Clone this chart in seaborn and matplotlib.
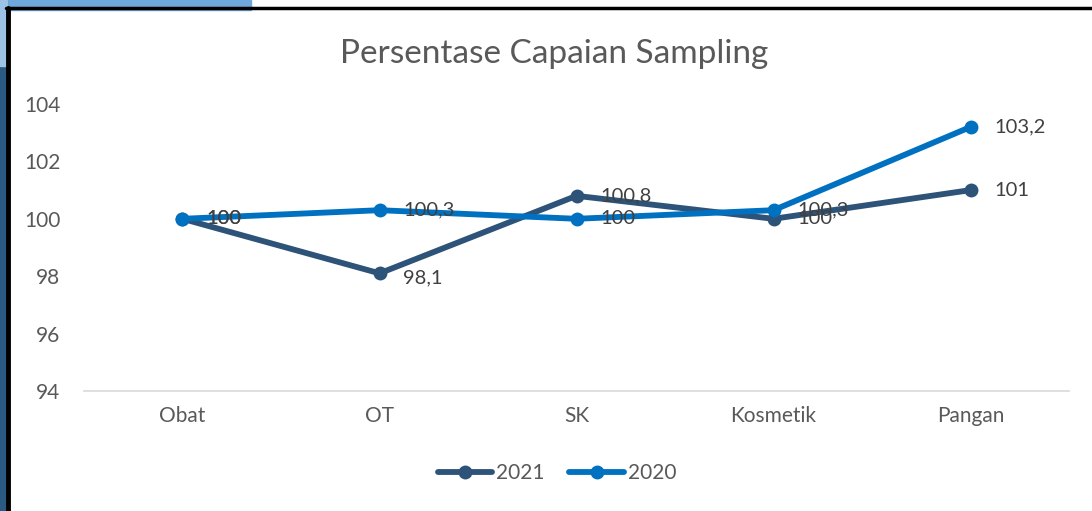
import pandas as pd
import numpy as np
import matplotlib.pyplot as plt
import seaborn as sns
from matplotlib.patches import Rectangle
from matplotlib.lines import Line2D

sns.set_theme(style="white")
plt.rcParams['font.family'] = ['Lato', 'DejaVu Sans']

# data
kategori = ['Obat', 'OT', 'SK', 'Kosmetik', 'Pangan']
nilai_2021 = [100, 98.1, 100.8, 100, 101]
nilai_2020 = [100, 100.3, 100, 100.3, 103.2]
seri = ['2021', '2020']
warna = {'2021': '#2E5378', '2020': '#0070C0'}

df = pd.DataFrame({
    'kategori': kategori * 2,
    'x': list(range(len(kategori))) * 2,
    'nilai': nilai_2021 + nilai_2020,
    'tahun': ['2021'] * len(kategori) + ['2020'] * len(kategori),
})

fig = plt.figure(figsize=(10.92, 5.11), dpi=100)
fig.patch.set_facecolor('white')

# slide decoration at the top-left corner
fig.patches.append(Rectangle((0, 0.98), 0.23, 0.02, transform=fig.transFigure,
                             color='#6FA8DC', zorder=0))
fig.patches.append(Rectangle((0, 0), 0.006, 1, transform=fig.transFigure,
                             color='#2A5A82', zorder=0))
fig.patches.append(Rectangle((0, 0.87), 0.006, 0.13, transform=fig.transFigure,
                             color='#9CC3E6', zorder=0))
# frame of the chart
fig.lines.append(Line2D([0.0075, 0.0075], [0, 0.984], transform=fig.transFigure,
                        color='black', lw=3.5))
fig.lines.append(Line2D([0.0058, 1], [0.984, 0.984], transform=fig.transFigure,
                        color='black', lw=2.5))

ax = fig.add_axes([0.0769, 0.2348, 0.9021, 0.5617])
sns.lineplot(data=df, x='x', y='nilai', hue='tahun', hue_order=seri, palette=warna,
             marker='o', markersize=10, markeredgewidth=0, linewidth=4.2,
             legend=False, ax=ax)

for tahun, vals in zip(seri, [nilai_2021, nilai_2020]):
    for i, v in enumerate(vals):
        teks = f'{v:g}'.replace('.', ',')
        dy = -3 if (tahun == '2021' and v < 99) else 0
        ax.annotate(teks, (i, v), xytext=(17, dy), textcoords='offset points',
                    ha='left', va='center', fontsize=14.5, color='#404040')

ax.set_xlim(-0.5, len(kategori) - 0.5)
ax.set_ylim(94, 104)
ax.set_yticks(range(94, 105, 2))
ax.set_xticks(range(len(kategori)))
ax.set_xticklabels(kategori)
ax.tick_params(axis='both', labelsize=15, colors='#595959', length=0)
ax.tick_params(axis='y', pad=17)
ax.tick_params(axis='x', pad=11)
ax.set_xlabel('')
ax.set_ylabel('')
for s in ['top', 'right', 'left']:
    ax.spines[s].set_visible(False)
ax.spines['bottom'].set_color('#D9D9D9')
ax.spines['bottom'].set_linewidth(1.2)

fig.text(0.507, 0.895, 'Persentase Capaian Sampling', ha='center', va='center',
         fontsize=24, color='#595959')

handles = [Line2D([0], [0], color=warna[t], lw=4.2, marker='o', markersize=10,
                  markeredgewidth=0) for t in seri]
fig.legend(handles, seri, loc='center', bbox_to_anchor=(0.51, 0.074), ncol=2,
           frameon=False, fontsize=15, labelcolor='#595959', handlelength=2.6,
           handletextpad=0.2, columnspacing=1.2)

plt.savefig('out.png', dpi=100)
